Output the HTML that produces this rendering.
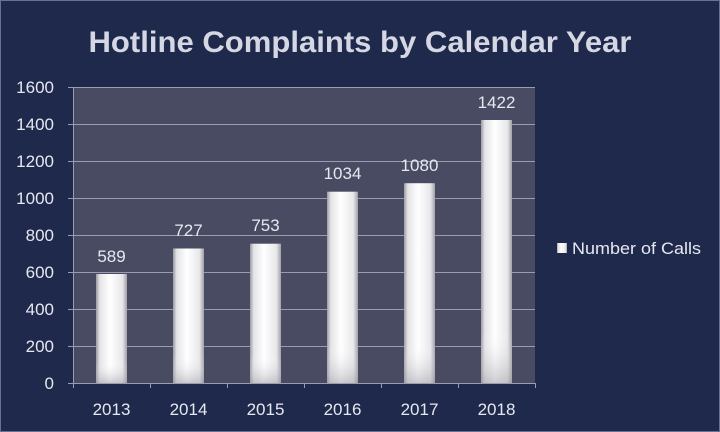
<!DOCTYPE html>
<html><head><meta charset="utf-8"><style>
html,body{margin:0;padding:0;background:#1f294c;}
svg{display:block;}
text{font-family:"Liberation Sans",sans-serif;fill:#e6e8ef;}
</style></head><body>
<svg width="720" height="432" viewBox="0 0 720 432" xmlns="http://www.w3.org/2000/svg">
<defs>
<linearGradient id="bg" x1="0" y1="0" x2="1" y2="0">
<stop offset="0" stop-color="#9a9aa0"/><stop offset="0.12" stop-color="#e4e4e8"/>
<stop offset="0.45" stop-color="#ffffff"/><stop offset="0.85" stop-color="#e8e8ec"/><stop offset="1" stop-color="#a0a0a6"/>
</linearGradient>
<linearGradient id="bv" x1="0" y1="0" x2="0" y2="1">
<stop offset="0" stop-color="#fff" stop-opacity="0"/><stop offset="0.8" stop-color="#fff" stop-opacity="0"/><stop offset="1" stop-color="#9a9aa0" stop-opacity="0.5"/>
</linearGradient>
</defs>
<rect x="0.5" y="0.5" width="719" height="431" fill="#1f294c" stroke="#6a7090" stroke-width="1"/>
<text x="360" y="52" text-anchor="middle" font-size="30" font-weight="bold" textLength="543" lengthAdjust="spacingAndGlyphs" style="fill:#d5d8e3">Hotline Complaints by Calendar Year</text>
<rect x="73" y="87" width="462" height="296" fill="#494b63"/>
<g stroke="#9a9db0" stroke-width="1">
<line x1="68" y1="87.5" x2="535" y2="87.5"/>
<line x1="68" y1="124.5" x2="535" y2="124.5"/>
<line x1="68" y1="161.5" x2="535" y2="161.5"/>
<line x1="68" y1="198.5" x2="535" y2="198.5"/>
<line x1="68" y1="235.5" x2="535" y2="235.5"/>
<line x1="68" y1="272.5" x2="535" y2="272.5"/>
<line x1="68" y1="309.5" x2="535" y2="309.5"/>
<line x1="68" y1="346.5" x2="535" y2="346.5"/>
<line x1="68" y1="383.5" x2="535" y2="383.5"/>
<line x1="73.5" y1="87" x2="73.5" y2="388"/>
<line x1="150.5" y1="383" x2="150.5" y2="388"/>
<line x1="227.5" y1="383" x2="227.5" y2="388"/>
<line x1="304.5" y1="383" x2="304.5" y2="388"/>
<line x1="381.5" y1="383" x2="381.5" y2="388"/>
<line x1="458.5" y1="383" x2="458.5" y2="388"/>
<line x1="535.5" y1="383" x2="535.5" y2="388"/>
</g>
<g font-size="17" text-anchor="end">
<text x="54" y="93">1600</text><text x="54" y="130">1400</text><text x="54" y="167">1200</text>
<text x="54" y="204">1000</text><text x="54" y="241">800</text><text x="54" y="278">600</text>
<text x="54" y="315">400</text><text x="54" y="352">200</text><text x="54" y="389">0</text>
</g>
<g>
<rect x="96" y="274" width="31" height="109" fill="url(#bg)"/><rect x="96" y="274" width="31" height="109" fill="url(#bv)"/>
<rect x="173" y="248.5" width="31" height="134.5" fill="url(#bg)"/><rect x="173" y="248.5" width="31" height="134.5" fill="url(#bv)"/>
<rect x="250" y="243.7" width="31" height="139.3" fill="url(#bg)"/><rect x="250" y="243.7" width="31" height="139.3" fill="url(#bv)"/>
<rect x="327" y="191.7" width="31" height="191.3" fill="url(#bg)"/><rect x="327" y="191.7" width="31" height="191.3" fill="url(#bv)"/>
<rect x="404" y="183.2" width="31" height="199.8" fill="url(#bg)"/><rect x="404" y="183.2" width="31" height="199.8" fill="url(#bv)"/>
<rect x="481" y="120" width="31" height="263" fill="url(#bg)"/><rect x="481" y="120" width="31" height="263" fill="url(#bv)"/>
</g>
<g font-size="17" text-anchor="middle">
<text x="111.5" y="262">589</text><text x="188.5" y="236">727</text><text x="265.5" y="231">753</text>
<text x="342.5" y="179">1034</text><text x="419.5" y="171">1080</text><text x="496.5" y="108">1422</text>
<text x="111.5" y="415">2013</text><text x="188.5" y="415">2014</text><text x="265.5" y="415">2015</text>
<text x="342.5" y="415">2016</text><text x="419.5" y="415">2017</text><text x="496.5" y="415">2018</text>
</g>
<rect x="557" y="243" width="10" height="10" fill="url(#bg)"/>
<text x="572" y="254" font-size="17" textLength="129" lengthAdjust="spacingAndGlyphs">Number of Calls</text>
</svg>
</body></html>
